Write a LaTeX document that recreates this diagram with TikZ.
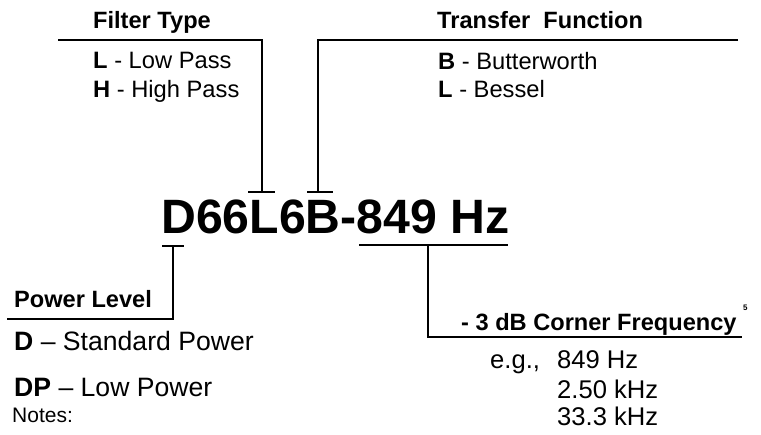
\documentclass[tikz,border=0pt]{standalone}
\usepackage{fontspec}
\setmainfont{Liberation Sans}
\begin{document}
\begin{tikzpicture}[x=1pt,y=-1pt,
  hd/.style={font=\fontsize{23.6}{28}\selectfont\bfseries, anchor=base west, inner sep=0pt},
  itm/.style={font=\fontsize{23.7}{28}\selectfont, anchor=base west, inner sep=0pt},
  pitm/.style={font=\fontsize{26.6}{30}\selectfont, anchor=base west, inner sep=0pt},
  fitm/.style={font=\fontsize{25.6}{30}\selectfont, anchor=base west, inner sep=0pt},
  big/.style={font=\fontsize{48.2}{54}\selectfont\bfseries, anchor=base west, inner sep=0pt},
  note/.style={font=\fontsize{21}{24}\selectfont, anchor=base west, inner sep=0pt},
  ln/.style={line width=2pt}]
\useasboundingbox (0,0) rectangle (761,435);
% headings and items
\node[hd] (ft) at (93,29) {Filter Type};
\node[itm] (lp) at (93,69) {\textbf{L} - Low Pass};
\node[itm] (hp) at (93,98) {\textbf{H} - High Pass};
\node[hd] (tf) at (437,29) {Transfer~~Function};
\node[itm] (bw) at (438,70) {\textbf{B} - Butterworth};
\node[itm] (bs) at (438,98) {\textbf{L} - Bessel};
\node[big] (pn) at (161,234) {D66L6B-849 Hz};
\node[hd] (pl) at (14,308) {Power Level};
\node[pitm] (sp) at (14,351) {\textbf{D} -- Standard Power};
\node[pitm] (lw) at (14,397) {\textbf{DP} -- Low Power};
\node[note] (nt) at (12,423) {Notes:};
\node[hd] (cf) at (461,331) {- 3 dB Corner Frequency};
\node[font=\fontsize{8}{9}\selectfont\bfseries, anchor=base west, inner sep=0pt] (sup) at (743,311) {5};
\node[fitm] (eg) at (490,369) {e.g.,};
\node[fitm] (f1) at (557,369) {849 Hz};
\node[fitm] (f2) at (557,399) {2.50 kHz};
\node[fitm] (f3) at (557,426) {33.3 kHz};
% connector points
\coordinate (a1) at (58,40);
\coordinate (a2) at (262,40);
\coordinate (a3) at (262,192);
\coordinate (a4) at (248,192);
\coordinate (a5) at (275,192);
\coordinate (b1) at (738,40);
\coordinate (b2) at (318,40);
\coordinate (b3) at (318,192);
\coordinate (b4) at (307,192);
\coordinate (b5) at (333,192);
\coordinate (c1) at (162,246);
\coordinate (c2) at (184,246);
\coordinate (c3) at (173,246);
\coordinate (c4) at (173,319);
\coordinate (c5) at (7,319);
\coordinate (d1) at (359,245);
\coordinate (d2) at (508,245);
\coordinate (d3) at (428,245);
\coordinate (d4) at (428,337);
\coordinate (d5) at (742,337);
\draw[ln] (a1) -- (a2) -- (a3);
\draw[ln] (a4) -- (a5);
\draw[ln] (b1) -- (b2) -- (b3);
\draw[ln] (b4) -- (b5);
\draw[ln] (c1) -- (c2);
\draw[ln] (c3) -- (c4) -- (c5);
\draw[ln] (d1) -- (d2);
\draw[ln] (d3) -- (d4) -- (d5);
\end{tikzpicture}
\end{document}
